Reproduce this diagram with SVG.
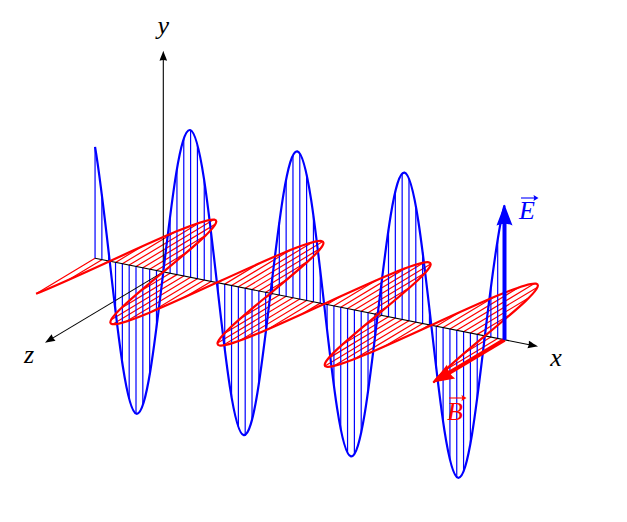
<svg xmlns="http://www.w3.org/2000/svg" xmlns:xlink="http://www.w3.org/1999/xlink" width="627" height="522" viewBox="0 0 627 522">
<style>
.hb{fill:none;stroke:#0000ff;stroke-width:1.2}
.hr{fill:none;stroke:#ff0000;stroke-width:1.2}
.cb{fill:none;stroke:#0000ff;stroke-width:2.2}
.cr{fill:none;stroke:#ff0000;stroke-width:2.2}
.ax{fill:none;stroke:#000000;stroke-width:1.1}
.lbl{font-family:"Liberation Serif","DejaVu Serif",serif;font-style:italic;font-size:26px;text-anchor:middle}
</style>
<defs>
<path id="ah" d="M0 0C-3 -1 -7 -2.7 -10 -3.8Q-8.8 0 -10 3.8C-7 2.7 -3 1 0 0Z"/>
<path id="bh" d="M0 0L-21 -8Q-17.5 0 -21 8Z"/>
<g id="acc">
<path d="M-8.5 0H6" fill="none" stroke="currentColor" stroke-width="1.1"/>
<path d="M9 0L4 -3Q5.5 0 4 3Z" fill="currentColor"/>
</g>
</defs>
<rect width="627" height="522" fill="#ffffff"/>

<g id="b-hatch" transform="matrix(17.061 3.395 -77.9 46.9 163.3 271.9)">
<path class="hr" vector-effect="non-scaling-stroke" d="M-4 0V.7568M-3.6 0V.4425M-3.2 0V.0584M-2.8 0V-.335M-2.4 0V-.6755M-2 0V-.9093M-1.6 0V-.9996M-1.2 0V-.932M-.8 0V-.7174M-.4 0V-.3894M.4 0V.3894M.8 0V.7174M1.2 0V.932M1.6 0V.9996M2 0V.9093M2.4 0V.6755M2.8 0V.335M3.2 0V-.0584M3.6 0V-.4425M4 0V-.7568M4.4 0V-.9516M4.8 0V-.9962M5.2 0V-.8835M5.6 0V-.6313M6 0V-.2794M6.4 0V.1165M6.8 0V.4941M7.2 0V.7937M7.6 0V.9679M8 0V.9894M8.4 0V.8546M8.8 0V.5849M9.2 0V.2229M9.6 0V-.1743M10 0V-.544M10.4 0V-.8278M10.8 0V-.9809M11.2 0V-.9792M11.6 0V-.8228M12 0V-.5366M12.4 0V-.1656M12.8 0V.2315M13.2 0V.592M13.6 0V.8593M14 0V.9906M14.4 0V.9657M14.8 0V.7884M15.2 0V.4864M15.6 0V.1078M16 0V-.2879M16.4 0V-.6381M16.8 0V-.8877M17.2 0V-.9969M17.6 0V-.9488M18 0V-.751M18.4 0V-.4346M18.8 0V-.0496M19.2 0V.3433M19.6 0V.682M20 0V.9129"/>
</g>

<g id="e-hatch" transform="matrix(17.061 3.395 0 -147.2 163.3 271.9)">
<path class="hb" vector-effect="non-scaling-stroke" d="M-4 0V.7568M-3.6 0V.4425M-3.2 0V.0584M-2.8 0V-.335M-2.4 0V-.6755M-2 0V-.9093M-1.6 0V-.9996M-1.2 0V-.932M-.8 0V-.7174M-.4 0V-.3894M.4 0V.3894M.8 0V.7174M1.2 0V.932M1.6 0V.9996M2 0V.9093M2.4 0V.6755M2.8 0V.335M3.2 0V-.0584M3.6 0V-.4425M4 0V-.7568M4.4 0V-.9516M4.8 0V-.9962M5.2 0V-.8835M5.6 0V-.6313M6 0V-.2794M6.4 0V.1165M6.8 0V.4941M7.2 0V.7937M7.6 0V.9679M8 0V.9894M8.4 0V.8546M8.8 0V.5849M9.2 0V.2229M9.6 0V-.1743M10 0V-.544M10.4 0V-.8278M10.8 0V-.9809M11.2 0V-.9792M11.6 0V-.8228M12 0V-.5366M12.4 0V-.1656M12.8 0V.2315M13.2 0V.592M13.6 0V.8593M14 0V.9906M14.4 0V.9657M14.8 0V.7884M15.2 0V.4864M15.6 0V.1078M16 0V-.2879M16.4 0V-.6381M16.8 0V-.8877M17.2 0V-.9969M17.6 0V-.9488M18 0V-.751M18.4 0V-.4346M18.8 0V-.0496M19.2 0V.3433M19.6 0V.682M20 0V.9129"/>
</g>

<g id="axes">
<path class="ax" d="M95.05 258.3L533.1 345.5"/>
<path class="ax" d="M163.3 271.9V55.5"/>
<path class="ax" d="M163.3 271.9L49.3 340.1"/>
<use xlink:href="#ah" href="#ah" fill="#000000" transform="translate(163.3 50.7) rotate(-90)"/>
<use xlink:href="#ah" href="#ah" fill="#000000" transform="translate(538 346.5) rotate(11.25)"/>
<use xlink:href="#ah" href="#ah" fill="#000000" transform="translate(45 342.7) rotate(149.1)"/>
</g>

<g id="e-wave" transform="matrix(17.061 3.395 0 -147.2 163.3 271.9)">
<path class="cb" vector-effect="non-scaling-stroke" d="M-4 .7568C-3.7139 .5698 -3.4277 .2861 -3.1416 0C-2.6288 -.5128 -2.1416 -1 -1.5708 -1C-1 -1 -.5128 -.5128 0 0C.5128 .5128 1 1 1.5708 1C2.1416 1 2.6288 .5128 3.1416 0C3.6544 -.5128 4.1416 -1 4.7124 -1C5.2832 -1 5.7704 -.5128 6.2832 0C6.796 .5128 7.2832 1 7.854 1C8.4248 1 8.912 .5128 9.4248 0C9.9376 -.5128 10.4248 -1 10.9956 -1C11.5664 -1 12.0536 -.5128 12.5664 0C13.0792 .5128 13.5664 1 14.1372 1C14.708 1 15.1952 .5128 15.708 0C16.2208 -.5128 16.708 -1 17.2788 -1C17.8496 -1 18.3368 -.5128 18.8496 0C19.2331 .3835 19.6165 .7564 20 .9129"/>
</g>

<g id="b-wave" transform="matrix(17.061 3.395 -77.9 46.9 163.3 271.9)">
<path class="cr" vector-effect="non-scaling-stroke" d="M-4 .7568C-3.7139 .5698 -3.4277 .2861 -3.1416 0C-2.6288 -.5128 -2.1416 -1 -1.5708 -1C-1 -1 -.5128 -.5128 0 0C.5128 .5128 1 1 1.5708 1C2.1416 1 2.6288 .5128 3.1416 0C3.6544 -.5128 4.1416 -1 4.7124 -1C5.2832 -1 5.7704 -.5128 6.2832 0C6.796 .5128 7.2832 1 7.854 1C8.4248 1 8.912 .5128 9.4248 0C9.9376 -.5128 10.4248 -1 10.9956 -1C11.5664 -1 12.0536 -.5128 12.5664 0C13.0792 .5128 13.5664 1 14.1372 1C14.708 1 15.1952 .5128 15.708 0C16.2208 -.5128 16.708 -1 17.2788 -1C17.8496 -1 18.3368 -.5128 18.8496 0C19.2331 .3835 19.6165 .7564 20 .9129"/>
</g>

<g id="b-vector">
<path d="M504.5 339.8L447.6 373.8" fill="none" stroke="#ff0000" stroke-width="4"/>
<use xlink:href="#bh" href="#bh" fill="#ff0000" transform="translate(433 382.5) rotate(149.15)"/>
</g>
<g id="e-vector">
<path d="M504.5 339.8V221" fill="none" stroke="#0000ff" stroke-width="4"/>
<use xlink:href="#bh" href="#bh" fill="#0000ff" transform="translate(504.5 204.5) rotate(-90)"/>
</g>

<g id="labels">
<text class="lbl" x="163.3" y="34">y</text>
<text class="lbl" x="556" y="366">x</text>
<text class="lbl" x="29" y="363">z</text>
<text class="lbl" x="527" y="219" fill="#0000ff">E</text>
<use xlink:href="#acc" href="#acc" color="#0000ff" transform="translate(529.5 198)"/>
<text class="lbl" x="455" y="420" fill="#ff0000">B</text>
<use xlink:href="#acc" href="#acc" color="#ff0000" transform="translate(457.5 398)"/>
</g>
</svg>
